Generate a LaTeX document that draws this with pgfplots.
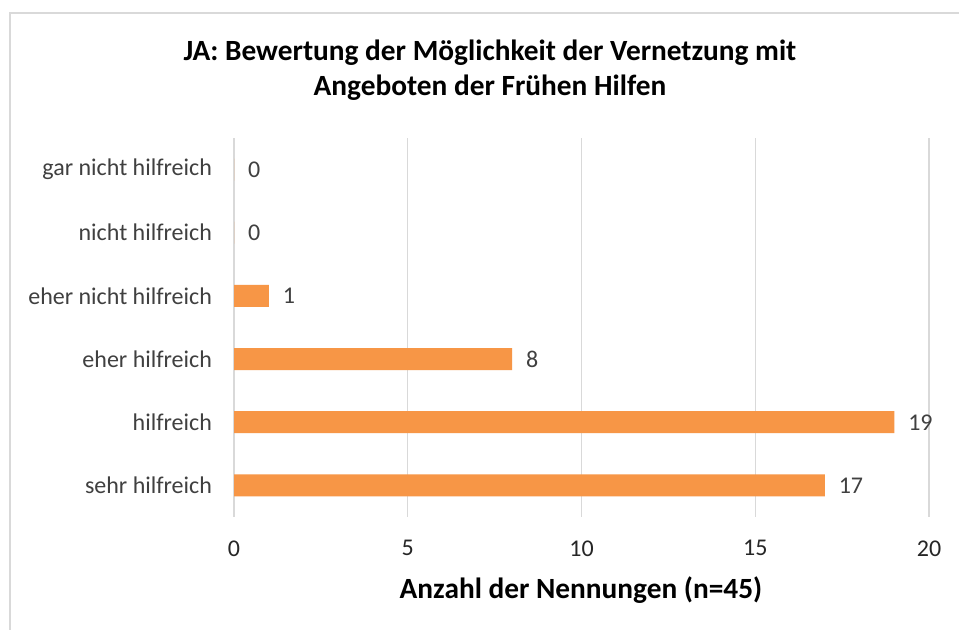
\documentclass[border=0pt]{standalone}
\usepackage{pgfplots}
\pgfplotsset{compat=1.18}
\usepackage{fontspec}
\setmainfont{Carlito}
\definecolor{barorange}{HTML}{F79646}
\definecolor{gridgray}{HTML}{D9D9D9}
\definecolor{labelgray}{HTML}{404040}
\definecolor{tickgray}{HTML}{262626}
\begin{document}
\begin{tikzpicture}[x=0.75pt,y=0.75pt]
\useasboundingbox (0,0) rectangle (959,630);
\fill[white] (0,0) rectangle (959,630);
\draw[gridgray, line width=1.5pt] (10,0) -- (10,617) -- (959,617);
\node[font=\bfseries\fontsize{22}{26.25}\selectfont, align=center, text=black] at (490,559.5)
  {JA: Bewertung der Möglichkeit der Vernetzung mit\\Angeboten der Frühen Hilfen};
\node[font=\bfseries\fontsize{22}{26}\selectfont, text=black] at (581,40)
  {Anzahl der Nennungen (n=45)};
\begin{axis}[
  at={(175.5pt,84.75pt)}, anchor=south west,
  scale only axis, width=521.25pt, height=284.25pt,
  xbar, bar width=16.5pt,
  xmin=0, xmax=20, ymin=-0.5, ymax=5.5,
  ytick={0,1,2,3,4,5},
  yticklabels={sehr hilfreich, hilfreich, eher hilfreich, eher nicht hilfreich, nicht hilfreich, gar nicht hilfreich},
  xtick={0,5,10,15,20},
  xmajorgrids, grid style={gridgray, line width=1pt},
  axis line style={draw=none},
  major tick length=0pt,
  /pgf/number format/assume math mode=true,
  yticklabel style={font=\fontsize{18}{21}\selectfont, text=labelgray, anchor=east, xshift=-13pt},
  xticklabel style={font=\fontsize{18}{21}\selectfont, text=tickgray, anchor=center, yshift=-23.5pt},
  nodes near coords,
  nodes near coords style={font=\fontsize{18}{21}\selectfont, text=labelgray, anchor=west, xshift=7pt},
  clip=false,
]
\addplot[fill=barorange, draw=none] coordinates {(17,0) (19,1) (8,2) (1,3) (0,4) (0,5)};
\end{axis}
\end{tikzpicture}
\end{document}
